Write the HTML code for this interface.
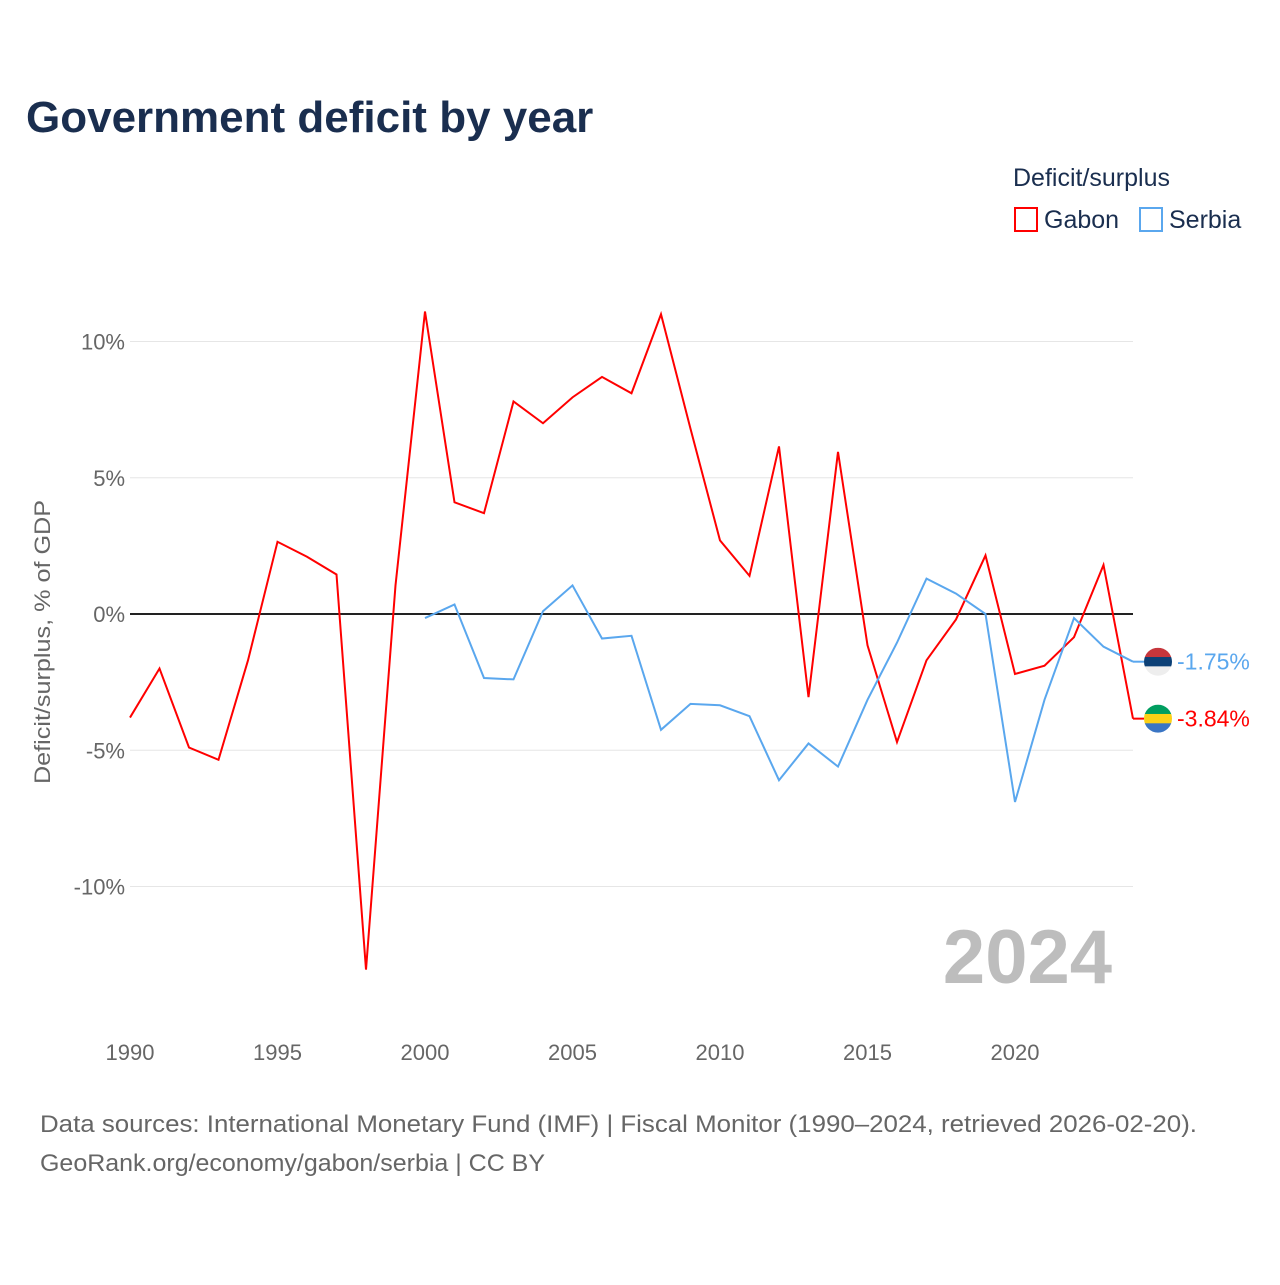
<!DOCTYPE html>
<html><head><meta charset="utf-8"><style>
body{margin:0;background:#fff;font-family:"Liberation Sans",sans-serif;}
</style></head><body>
<svg width="1280" height="1280" xmlns="http://www.w3.org/2000/svg">
<text x="26" y="132" font-size="44" font-weight="bold" fill="#1a2e4f">Government deficit by year</text>
<text x="1013" y="186" font-size="25" fill="#1a2e4f">Deficit/surplus</text>
<g><rect x="1015" y="208" width="22" height="23" fill="none" stroke="#ff0000" stroke-width="2"/><text x="1044" y="228" font-size="25" fill="#1a2e4f">Gabon</text></g>
<g><rect x="1140" y="208" width="22" height="23" fill="none" stroke="#5aa7ee" stroke-width="2"/><text x="1169" y="228" font-size="25" fill="#1a2e4f">Serbia</text></g>
<g id="grid"></g><g id="axes"></g><g id="lines"></g>
<text x="1112" y="983" font-size="76" font-weight="bold" fill="#bdbdbd" text-anchor="end">2024</text>
<text transform="translate(50,642) rotate(-90)" font-size="22" fill="#666" text-anchor="middle" textLength="284" lengthAdjust="spacingAndGlyphs">Deficit/surplus, % of GDP</text>
<text x="40" y="1132" font-size="24" fill="#666" textLength="1157" lengthAdjust="spacingAndGlyphs">Data sources: International Monetary Fund (IMF) | Fiscal Monitor (1990–2024, retrieved 2026-02-20).</text>
<text x="40" y="1171" font-size="24" fill="#666" textLength="505" lengthAdjust="spacingAndGlyphs">GeoRank.org/economy/gabon/serbia | CC BY</text>
</svg>
<script>
const years=[];for(let y=1990;y<=2024;y++)years.push(y);
const gabon=[-3.8,-2.0,-4.9,-5.35,-1.7,2.65,2.1,1.45,-13.05,1.05,11.1,4.1,3.7,7.8,7.0,7.95,8.7,8.1,11.0,6.8,2.7,1.4,6.15,-3.05,5.95,-1.15,-4.7,-1.7,-0.2,2.15,-2.2,-1.9,-0.85,1.8,-3.84];
const serbiaYears=[];for(let y=2000;y<=2024;y++)serbiaYears.push(y);
const serbia=[-0.15,0.35,-2.35,-2.4,0.1,1.05,-0.9,-0.8,-4.25,-3.3,-3.35,-3.75,-6.1,-4.75,-5.6,-3.15,-1.05,1.3,0.75,0,-6.9,-3.15,-0.15,-1.2,-1.75];
const yTicks=[10,5,0,-5,-10];
const xTicks=[1990,1995,2000,2005,2010,2015,2020];
const NS="http://www.w3.org/2000/svg";
const X=y=>130+(y-1990)*29.5;
const Y=v=>614-v*27.25;
function mk(t,a,p){const e=document.createElementNS(NS,t);for(const k in a)e.setAttribute(k,a[k]);p.appendChild(e);return e;}
const grid=document.getElementById('grid'),axes=document.getElementById('axes'),lines=document.getElementById('lines');
yTicks.forEach(v=>{
 const l=mk('line',{x1:130,x2:1133,y1:Y(v),y2:Y(v),stroke:v===0?'#222':'#e6e6e6','stroke-width':v===0?2:1},grid);
 
 
 const t=mk('text',{x:125,y:Y(v)+8,'font-size':22,fill:'#666','text-anchor':'end'},axes);
 t.textContent=v+'%';
 
 
});
xTicks.forEach(y=>{
 const t=mk('text',{x:X(y),y:1060,'font-size':22,fill:'#666','text-anchor':'middle'},axes);
 t.textContent=y;
 
 
});
function series(xs,vs,c,name){
 const p=mk('polyline',{points:xs.map((y,i)=>X(y)+','+Y(vs[i])).join(' '),fill:'none',stroke:c,'stroke-width':2},lines);
 
 
}
series(years,gabon,'#ff0000','gabon');
series(serbiaYears,serbia,'#5aa7ee','serbia');
function endLabel(v,c,name,flag){
 const g=mk('g',{},lines);
 
 
 const cx=1158,cy=Y(v);
 mk('line',{x1:X(2024),x2:cx-14,y1:cy,y2:cy,stroke:c,'stroke-width':2},g);
 const cp=mk('clipPath',{id:'cp'+name},g);mk('circle',{cx:cx,cy:cy,r:14},cp);
 const fg=mk('g',{'clip-path':'url(#cp'+name+')'},g);
 flag.forEach((col,i)=>mk('rect',{x:cx-14,y:cy-14+i*28/3,width:28,height:28/3+0.5,fill:col},fg));
 const t=mk('text',{x:1177,y:cy+8,'font-size':23,fill:c},g);
 t.textContent=v.toFixed(2)+'%';
}
endLabel(serbia[serbia.length-1],'#5aa7ee','serbia',['#c6363c','#0c4076','#eeeeee']);
endLabel(gabon[gabon.length-1],'#ff0000','gabon',['#009e60','#fcd116','#3a75c4']);
</script>
</body></html>
